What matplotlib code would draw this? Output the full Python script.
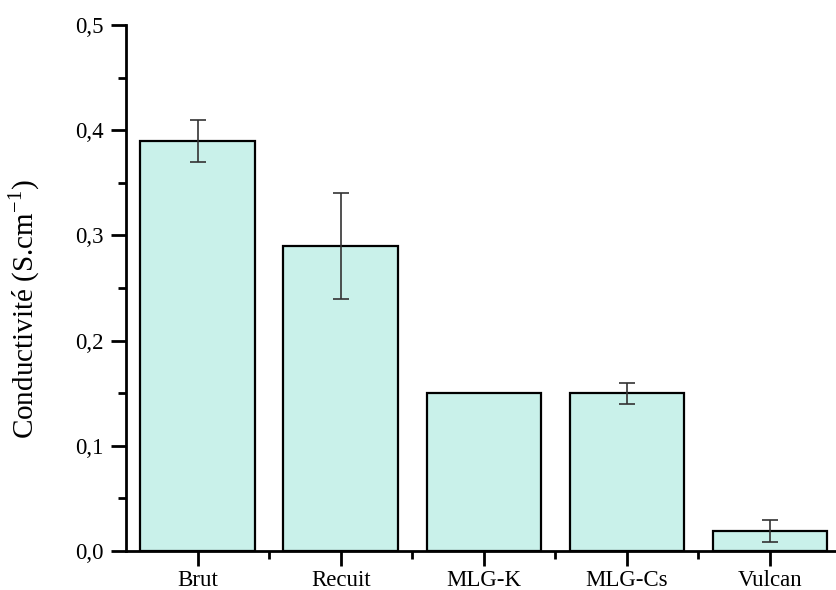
import numpy as np
import matplotlib.pyplot as plt
from matplotlib.ticker import MultipleLocator, FixedLocator, FuncFormatter

# Données
echantillons = ['Brut', 'Recuit', 'MLG-K', 'MLG-Cs', 'Vulcan']
conductivite = [0.39, 0.29, 0.15, 0.15, 0.019]
erreur = [0.02, 0.05, 0.0, 0.01, 0.01]

plt.rcParams['font.family'] = ['Liberation Serif', 'DejaVu Serif']

fig = plt.figure(figsize=(8.37, 5.90), dpi=100)
# l'axe déborde à droite comme sur l'image d'origine
ax = fig.add_axes([126 / 837, 39 / 590, 715.5 / 837, 526 / 590])

x = np.arange(len(echantillons))
ax.bar(x, conductivite, width=0.8, color='#c9f1ea', edgecolor='black', linewidth=1.6, zorder=2)
yerr = np.array(erreur)
mask = yerr > 0
ax.errorbar(x[mask], np.array(conductivite)[mask], yerr=yerr[mask], fmt='none',
            ecolor='#333333', elinewidth=1.2, capsize=6, capthick=1.2, zorder=3)

ax.set_xlim(-0.5, 4.5)
ax.set_ylim(0, 0.5)
ax.set_xticks(x)
ax.set_xticklabels(echantillons)
ax.xaxis.set_minor_locator(FixedLocator(x[:-1] + 0.5))
ax.yaxis.set_major_locator(MultipleLocator(0.1))
ax.yaxis.set_minor_locator(MultipleLocator(0.05))
ax.yaxis.set_major_formatter(FuncFormatter(lambda v, p: f'{v:.1f}'.replace('.', ',')))

for s in ['top', 'right']:
    ax.spines[s].set_visible(False)
for s in ['left', 'bottom']:
    ax.spines[s].set_linewidth(2)

ax.tick_params(which='major', direction='out', length=11, width=2, labelsize=16.5, pad=5)
ax.tick_params(axis='x', which='major', pad=2.5)
ax.tick_params(which='minor', direction='out', length=6, width=2)

ax.set_ylabel('Conductivité (S.cm$^{\\mathregular{-1}}$)', fontsize=21)
ax.yaxis.set_label_coords(-0.117, 0.46)

fig.savefig('out.png', dpi=100)
